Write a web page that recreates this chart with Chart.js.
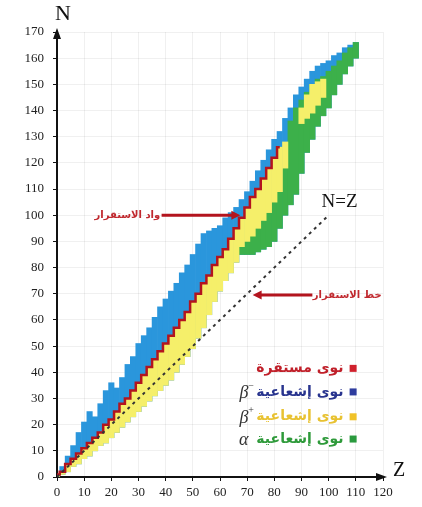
<!DOCTYPE html>
<html>
<head>
<meta charset="utf-8">
<script src="https://cdn.jsdelivr.net/npm/chart.js@4.4.1/dist/chart.umd.min.js"></script>
<style>
html, body { margin: 0; padding: 0; background: #fff; }
</style>
</head>
<body>
<canvas id="chart" width="422" height="507"></canvas>
<script>
// Z columns (step of 2 protons)
const zValues = [
    0, 2, 4, 6, 8, 10, 12, 14, 16, 18,
    20, 22, 24, 26, 28, 30, 32, 34, 36, 38,
    40, 42, 44, 46, 48, 50, 52, 54, 56, 58,
    60, 62, 64, 66, 68, 70, 72, 74, 76, 78,
    80, 82, 84, 86, 88, 90, 92, 94, 96, 98,
    100, 102, 104, 106, 108, 110
]

// upper edge of the band (neutron rich, beta-)
const blueTop = [
    1, 4, 8, 12, 17, 21, 25, 23, 28, 33,
    36, 34, 38, 43, 46, 51, 54, 57, 61, 65,
    68, 71, 74, 78, 81, 85, 89, 93, 94, 95,
    96, 99, 101, 103, 106, 109, 113, 117, 121, 125,
    129, 132, 137, 141, 146, 149, 152, 155, 157, 158,
    159, 161, 162, 164, 165, 166
]

// lower edge of the band (proton rich)
const bandBottom = [
    0, 1, 2, 4, 5, 7, 8, 10, 12, 13,
    15, 17, 19, 21, 23, 25, 27, 29, 31, 33,
    35, 37, 40, 43, 46, 49, 53, 57, 62, 67,
    71, 75, 78, 82, 85, 85, 85, 86, 87, 88,
    90, 95, 100, 104, 108, 116, 124, 129, 134, 138,
    141, 146, 150, 154, 157, 160
]

// stable nuclei (red line)
const stableN = [
    1, 2, 5, 7, 9, 11, 13, 15, 17, 20,
    22, 25, 28, 30, 33, 36, 39, 42, 45, 48,
    51, 54, 57, 60, 63, 67, 70, 74, 77, 81,
    84, 87, 91, 95, 99, 103, 107, 110, 114, 118,
    122, 126, null, null, null, null, null, null, null, null,
    null, null, null, null, null, null
]

// beta+ region
const yellowLow = [
    0, 1, 2, 4, 5, 7, 8, 10, 12, 13,
    15, 17, 19, 21, 23, 25, 27, 29, 31, 33,
    35, 37, 40, 43, 46, 49, 53, 57, 62, 67,
    71, 75, 78, 82, 88, 90, 92, 95, 98, 101,
    105, 109, 118, null, null, 135, 137, 139, 142, 145,
    null, null, null, null, null, null
]
const yellowHigh = [
    1, 2, 5, 7, 9, 11, 13, 15, 17, 20,
    22, 25, 28, 30, 33, 36, 39, 42, 45, 48,
    51, 54, 57, 60, 63, 67, 70, 74, 77, 81,
    84, 87, 91, 95, 99, 103, 107, 110, 114, 118,
    122, 126, 128, null, null, 141, 146, 150, 151, 152,
    null, null, null, null, null, null
]

// alpha region
const greenLow = [
    null, null, null, null, null, null, null, null, null, null,
    null, null, null, null, null, null, null, null, null, null,
    null, null, null, null, null, null, null, null, null, null,
    null, null, null, null, 85, 85, 85, 86, 87, 88,
    90, 95, 100, 104, 108, 116, 124, 129, 134, 138,
    141, 146, 150, 154, 157, 160
]
const greenHigh = [
    null, null, null, null, null, null, null, null, null, null,
    null, null, null, null, null, null, null, null, null, null,
    null, null, null, null, null, null, null, null, null, null,
    null, null, null, null, 88, 90, 92, 95, 98, 101,
    105, 109, 118, 136, 141, 144, 147, 150, 152, 153,
    155, 157, 159, 162, 164, 166
]

const zTicks = [0, 10, 20, 30, 40, 50, 60, 70, 80, 90, 100, 110, 120]
const nTicks = [0, 10, 20, 30, 40, 50, 60, 70, 80, 90, 100, 110, 120, 130, 140, 150, 160, 170]

const legendLabels = ['نوى مستقرة', 'نوى إشعاعية', 'نوى إشعاعية', 'نوى إشعاعية']
const legendGreek = ['', 'β', 'β', 'α']
const legendSup = ['', '−', '+', '']

const toBars = (lo, hi) => {
    let out = []
    zValues.forEach((z, i) => {
        if(lo[i] != null && hi[i] != null){
            out.push({x: z, y: [lo[i], hi[i]]})
        }
    })
    return out
}

const toPoints = (vals) => {
    let out = []
    zValues.forEach((z, i) => {
        if(vals[i] != null){
            out.push({x: z, y: vals[i]})
        }
    })
    return out
}

const barStyle = {
    type: 'bar',
    grouped: false,
    barPercentage: 1,
    categoryPercentage: 1,
    borderWidth: 0
}

const extras = {
    id: 'extras',
    afterDraw(chart) {
        const ctx = chart.ctx
        const x = chart.scales.x
        const y = chart.scales.y
        const px = v => x.getPixelForValue(v)
        const py = v => y.getPixelForValue(v)
        ctx.save()

        // axis arrow heads
        ctx.fillStyle = '#111'
        ctx.beginPath()
        ctx.moveTo(px(0), py(170) - 4)
        ctx.lineTo(px(0) - 4, py(170) + 7)
        ctx.lineTo(px(0) + 4, py(170) + 7)
        ctx.closePath()
        ctx.fill()
        ctx.beginPath()
        ctx.moveTo(px(120) + 4, py(0))
        ctx.lineTo(px(120) - 7, py(0) - 4)
        ctx.lineTo(px(120) - 7, py(0) + 4)
        ctx.closePath()
        ctx.fill()

        // axis names
        ctx.font = '22px "Liberation Serif"'
        ctx.textAlign = 'center'
        ctx.textBaseline = 'middle'
        ctx.fillText('N', px(0) + 6, 14)
        ctx.font = '20px "Liberation Serif"'
        ctx.fillText('Z', px(120) + 16, py(0) - 6)
        ctx.font = '19px "Liberation Serif"'
        ctx.fillText('N=Z', px(104), py(105))

        // red arrows
        const arrow = (z1, z2, n) => {
            const x1 = px(z1), x2 = px(z2), yy = py(n)
            const dir = Math.sign(x2 - x1)
            ctx.strokeStyle = '#b3141e'
            ctx.fillStyle = '#b3141e'
            ctx.lineWidth = 3
            ctx.beginPath()
            ctx.moveTo(x1, yy)
            ctx.lineTo(x2 - dir * 6, yy)
            ctx.stroke()
            ctx.beginPath()
            ctx.moveTo(x2, yy)
            ctx.lineTo(x2 - dir * 9, yy - 4.5)
            ctx.lineTo(x2 - dir * 9, yy + 4.5)
            ctx.closePath()
            ctx.fill()
        }
        arrow(38.5, 67.5, 100)
        arrow(94, 72, 69.5)
        ctx.font = 'bold 10px "DejaVu Sans"'
        ctx.fillStyle = '#c0282e'
        ctx.textAlign = 'right'
        ctx.fillText('واد الاستقرار', px(38), py(100))
        ctx.fillText('خط الاستقرار', px(119.5), py(69.5))

        // legend
        const legendColors = ['#d0202c', '#2e3c9e', '#f0c228', '#2a9a3e']
        const textColors = ['#c0202a', '#28348e', '#e8c232', '#2e9a3a']
        const rows = [41.5, 32.5, 23, 14.5]
        rows.forEach((n, i) => {
            const yy = py(n)
            ctx.fillStyle = legendColors[i]
            ctx.fillRect(px(109) - 3.5, yy - 3.5, 7, 7)
            ctx.font = 'bold 14px "DejaVu Sans"'
            ctx.fillStyle = textColors[i]
            ctx.textAlign = 'right'
            ctx.fillText(legendLabels[i], px(105.5), yy)
            const w = ctx.measureText(legendLabels[i]).width
            if(legendGreek[i]){
                ctx.font = 'italic 18px "Liberation Serif"'
                ctx.fillStyle = '#333'
                ctx.fillText(legendGreek[i], px(105.5) - w - 8, yy + 1)
                if(legendSup[i]){
                    ctx.font = '10px "Liberation Serif"'
                    ctx.textAlign = 'left'
                    ctx.fillText(legendSup[i], px(105.5) - w - 8, yy - 6)
                }
            }
        })
        ctx.restore()
    }
}

const context = document.getElementById('chart').getContext('2d')
const chart = new Chart(context, {
    type: 'bar',
    data: {
        datasets: [
            {
                type: 'line',
                label: 'N=Z',
                data: [{x: 0, y: 0}, {x: 100, y: 100}],
                borderColor: '#333',
                borderWidth: 2,
                borderDash: [3, 4],
                pointRadius: 0,
                order: 0
            },
            {
                type: 'line',
                label: 'stable',
                data: toPoints(stableN),
                borderColor: '#b3141e',
                borderWidth: 2.5,
                stepped: 'middle',
                pointRadius: 0,
                order: 1
            },
            Object.assign({}, barStyle, {
                label: 'beta+',
                data: toBars(yellowLow, yellowHigh),
                backgroundColor: '#f5ef6a',
                order: 2
            }),
            Object.assign({}, barStyle, {
                label: 'alpha',
                data: toBars(greenLow, greenHigh),
                backgroundColor: '#3cb04a',
                order: 3
            }),
            Object.assign({}, barStyle, {
                label: 'beta-',
                data: toBars(bandBottom, blueTop),
                backgroundColor: '#2a96dc',
                order: 4
            })
        ]
    },
    options: {
        responsive: false,
        animation: false,
        layout: {
            padding: {left: 0, top: 32, right: 39, bottom: 0}
        },
        plugins: {
            legend: {display: false},
            tooltip: {enabled: false}
        },
        scales: {
            x: {
                type: 'linear',
                min: 0,
                max: 120,
                offset: false,
                afterFit: s => { s.height = 30 },
                afterBuildTicks: s => { s.ticks = zTicks.map(v => ({value: v})) },
                grid: {
                    offset: false,
                    color: 'rgba(0,0,0,0.06)',
                    tickColor: '#111',
                    tickLength: 4
                },
                border: {color: '#111', width: 2},
                ticks: {
                    color: '#222',
                    padding: 4,
                    maxRotation: 0,
                    font: {family: 'Liberation Serif', size: 13}
                }
            },
            y: {
                type: 'linear',
                min: 0,
                max: 170,
                afterFit: s => { s.width = 57 },
                afterBuildTicks: s => { s.ticks = nTicks.map(v => ({value: v})) },
                grid: {
                    color: 'rgba(0,0,0,0.06)',
                    tickColor: '#111',
                    tickLength: 4
                },
                border: {color: '#111', width: 2},
                ticks: {
                    color: '#222',
                    padding: 9,
                    font: {family: 'Liberation Serif', size: 13}
                }
            }
        }
    },
    plugins: [extras]
})
</script>
</body>
</html>
